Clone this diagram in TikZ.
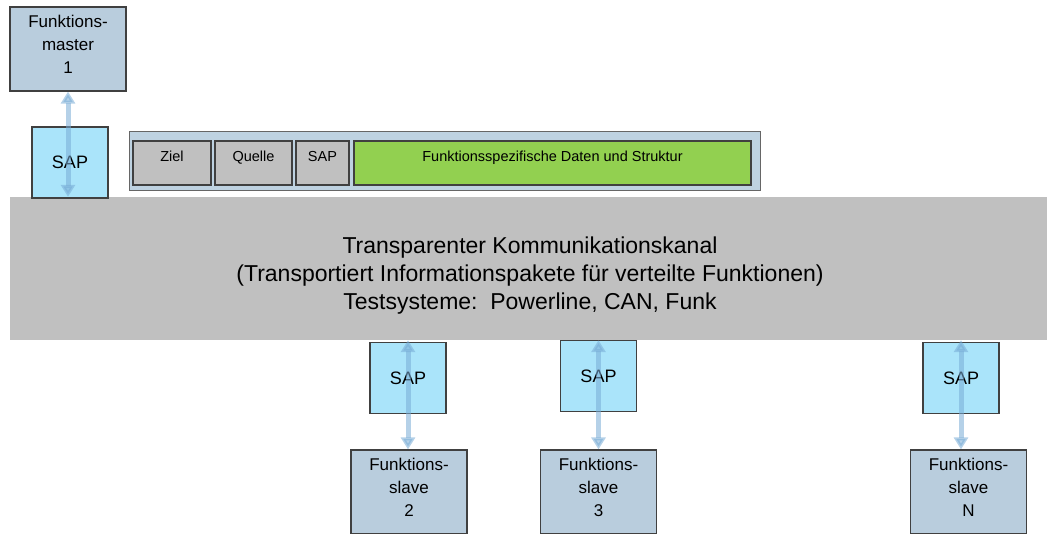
\documentclass[tikz,border=0pt]{standalone}
\usepackage{fontspec}
\setmainfont{Liberation Sans}
\usetikzlibrary{arrows.meta}

\definecolor{unitblue}{RGB}{185,205,221}
\definecolor{sapcyan}{RGB}{170,228,250}
\definecolor{framegray}{RGB}{64,64,64}
\definecolor{fieldgray}{RGB}{192,192,192}
\definecolor{datagreen}{RGB}{146,208,80}
\definecolor{packetblue}{RGB}{190,210,225}
\definecolor{linkblue}{RGB}{120,172,214}

\tikzset{
    unitbox/.style={draw=framegray, line width=1.2pt, fill=unitblue, minimum width=116pt,
        minimum height=84pt,
        label={[anchor=north, yshift=-5pt, align=center, font=\fontsize{17}{23}\selectfont]north:#1}},
    sapbox/.style={draw=framegray, line width=1.2pt, fill=sapcyan, minimum width=76pt,
        minimum height=71pt, font=\fontsize{18}{20}\selectfont},
    fieldbox/.style={draw=framegray, line width=1.1pt, fill=fieldgray, minimum height=44pt,
        label={[anchor=north, yshift=-7pt, font=\fontsize{14.5}{16}\selectfont]north:#1}},
    link/.style={linkblue, opacity=0.55, line width=5pt,
        {Triangle[width=14pt,length=12pt]}-{Triangle[width=14pt,length=12pt]}}
}

\begin{document}
\begin{tikzpicture}[x=1pt, y=-1pt]
    \useasboundingbox (0, 0) rectangle (1047, 533);
    \clip (0, 0) rectangle (1047, 533);

    % channel
    \node (kanal) [fill=fieldgray, minimum width=1040pt, minimum height=143pt,
        label={[yshift=-7pt, align=center, font=\fontsize{23}{28}\selectfont]center:Transparenter Kommunikationskanal\\(Transportiert Informationspakete f\"ur verteilte Funktionen)\\Testsysteme:\ \ Powerline, CAN, Funk}]
        at (530, 268.5) {};

    % master side
    \node (master) [unitbox={Funktions-\\master\\1}] at (68, 49) {};
    \node (sap1) [sapbox] at (70, 162.5) {SAP};

    % packet
    \node (paket) [draw=framegray!80, line width=1pt, fill=packetblue, minimum width=631pt,
        minimum height=59pt] at (444.5, 160.5) {};
    \node (ziel) [fieldbox=Ziel, minimum width=78pt] at (172, 163) {};
    \node (quelle) [fieldbox=Quelle, minimum width=77pt] at (253.5, 163) {};
    \node (sapfeld) [fieldbox=SAP, minimum width=53pt] at (322.5, 163) {};
    \node (daten) [fieldbox={Funktionsspezifische Daten und Struktur}, fill=datagreen,
        minimum width=397pt] at (552.5, 163) {};

    % slave side
    \node (sap2) [sapbox] at (408, 378) {SAP};
    \node (sap3) [sapbox] at (598.5, 376) {SAP};
    \node (sapn) [sapbox] at (961, 378) {SAP};
    \node (slave2) [unitbox={Funktions-\\slave\\2}] at (409, 492) {};
    \node (slave3) [unitbox={Funktions-\\slave\\3}] at (598.5, 492) {};
    \node (slaven) [unitbox={Funktions-\\slave\\N}] at (968.5, 492) {};

    % links
    \draw [link] (master.south -| sap1.center) ++(-2, 0) coordinate (m1) -- (m1 |- kanal.north);
    \draw [link] (sap2.center |- kanal.south) -- (sap2.center |- slave2.north);
    \draw [link] (sap3.center |- kanal.south) -- (sap3.center |- slave3.north);
    \draw [link] (sapn.center |- kanal.south) -- (sapn.center |- slaven.north);
\end{tikzpicture}
\end{document}
